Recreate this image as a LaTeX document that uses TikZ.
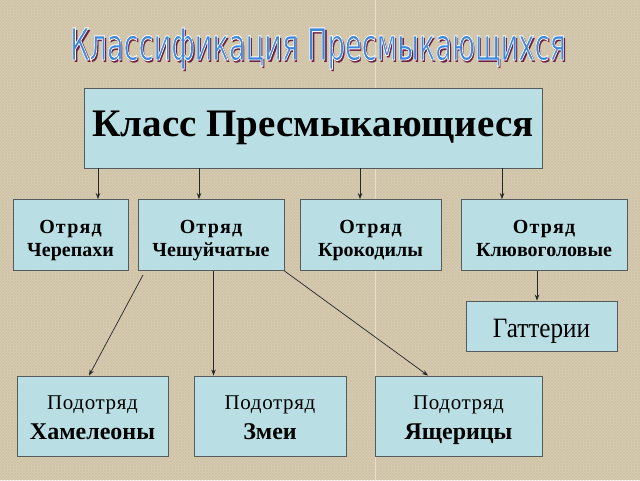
\documentclass[tikz,border=0pt]{standalone}
\usepackage{fontspec}
\setmainfont{Liberation Serif}
\newfontfamily\titlefont{DejaVu Sans}
\usetikzlibrary{arrows.meta,calc,patterns}
\definecolor{parch}{HTML}{D8CCB2}
\definecolor{parchdark}{HTML}{BFB194}
\definecolor{boxfill}{HTML}{B9DFE4}
\definecolor{boxline}{HTML}{555B5C}
\definecolor{titleblue}{HTML}{3F88DC}
\definecolor{titleshadow}{HTML}{6E2040}
\newcommand{\tpad}{\rule{0pt}{26pt}}
\newcommand{\bpad}{\rule[-7pt]{0pt}{0pt}}
\newcommand{\otr}{{\addfontfeature{LetterSpace=6}Отряд}}
\newcommand{\podo}{{\addfontfeature{LetterSpace=3}Подотряд}}
\tikzset{
  box/.style={draw=boxline, line width=0.9pt, fill=boxfill, inner sep=0pt, align=center, text=black},
  orderbox/.style={box, minimum height=71, font=\bfseries\fontsize{20}{23}\selectfont},
  subbox/.style={box, minimum height=80, font=\fontsize{21}{30}\selectfont},
  conn/.style={draw=black!85, line width=0.7pt},
  arr/.style={conn, -{Stealth[length=6pt,width=4.5pt]}},
  ttl/.style={inner sep=0pt, anchor=base, font=\titlefont\fontsize{44}{44}\selectfont}
}
\newcommand{\ttltext}{\scalebox{0.62}[1]{Классификация Пресмыкающихся}}
\newcommand{\ttlstroke}{\special{pdf:code 1 1 1 RG 0.9 w 2 Tr}}
\newcommand{\ttlunstroke}{\special{pdf:code 0 Tr}}
\begin{document}
\begin{tikzpicture}[x=1pt,y=-1pt]
\fill[parch] (0,0) rectangle (640,480);
\fill[pattern=crosshatch, pattern color=parchdark, opacity=0.35] (0,0) rectangle (640,480);
\useasboundingbox (0,0) rectangle (640,480);
\draw[white, opacity=0.45, line width=0.8pt] (375,0) -- (375,480);
% title
\node[ttl, text=titleshadow] (tsh) at (320,62) {\ttltext};
\node[ttl, text=titleblue] (title) at (318,60) {\ttlstroke\ttltext\ttlunstroke};
% class
\node[box, minimum width=458, minimum height=80, font=\bfseries\fontsize{39}{44}\selectfont] (cls) at (313,128) {Класс Пресмыкающиеся};
% orders
\node[orderbox, minimum width=115] (o1) at (70.5,235) {\tpad\otr\\Черепахи\bpad};
\node[orderbox, minimum width=146] (o2) at (211,235) {\tpad\otr\\Чешуйчатые\bpad};
\node[orderbox, minimum width=141] (o3) at (370.5,235) {\tpad\otr\\Крокодилы\bpad};
\node[orderbox, minimum width=166] (o4) at (544,235) {\tpad\otr\\Клювоголовые\bpad};
\node[box, minimum width=151, minimum height=50, font=\fontsize{28}{30}\selectfont] (g) at (541.5,326) {\rule{0pt}{28pt}\scalebox{0.9}[1]{Гаттерии}};
% suborders
\node[subbox, minimum width=151] (s1) at (92.5,416) {\rule{0pt}{23pt}\podo\\{\bfseries\fontsize{24}{30}\selectfont Хамелеоны}\bpad};
\node[subbox, minimum width=152] (s2) at (270,416) {\rule{0pt}{23pt}\podo\\{\bfseries\fontsize{24}{30}\selectfont Змеи}\bpad};
\node[subbox, minimum width=167] (s3) at (458.5,416) {\rule{0pt}{23pt}\podo\\{\bfseries\fontsize{24}{30}\selectfont Ящерицы}\bpad};
% arrows class -> orders
\coordinate (a1) at (98,0);
\coordinate (a2) at (199,0);
\coordinate (a3) at (360,0);
\coordinate (a4) at (502,0);
\draw[arr] (cls.south -| a1) -- (o1.north -| a1);
\draw[arr] (cls.south -| a2) -- (o2.north -| a2);
\draw[arr] (cls.south -| a3) -- (o3.north -| a3);
\draw[arr] (cls.south -| a4) -- (o4.north -| a4);
\coordinate (a5) at (537,0);
\draw[arr] (o4.south -| a5) -- (g.north -| a5);
% Чешуйчатые -> suborders
\coordinate (p1) at (143,275);
\coordinate (e1) at (89,0);
\coordinate (a6) at (213.5,0);
\coordinate (e3) at (428,0);
\draw[arr] (p1) -- (s1.north -| e1);
\draw[arr] (o2.south -| a6) -- (s2.north -| a6);
\draw[arr] (o2.south east) -- (s3.north -| e3);
\end{tikzpicture}
\end{document}
